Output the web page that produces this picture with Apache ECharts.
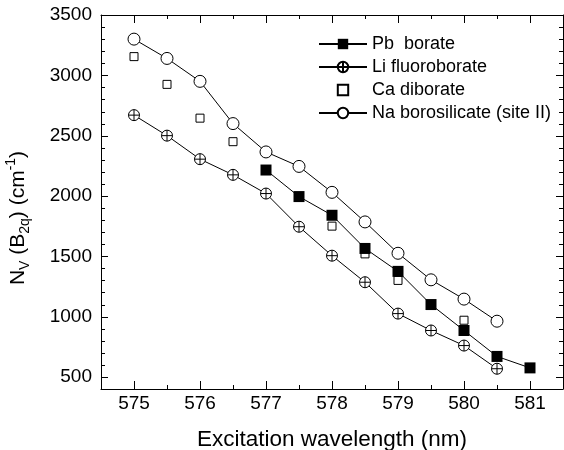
<!doctype html>
<html>
<head>
<meta charset="utf-8">
<title>Nv(B2q) vs excitation wavelength</title>
<style>
    html, body { margin: 0; padding: 0; background: #fff; }
    #main { width: 564px; height: 450px; }
</style>
</head>
<body>
<div id="main"></div>
<script src="https://cdn.jsdelivr.net/npm/echarts@6/dist/echarts.min.js"></script>
<script>
    // values
    var pbWave = [577, 577.5, 578, 578.5, 579, 579.5, 580, 580.5, 581];
    var pbVal = [2215, 1995, 1840, 1565, 1375, 1100, 885, 670, 575];

    var liWave = [575, 575.5, 576, 576.5, 577, 577.5, 578, 578.5, 579, 579.5, 580, 580.5];
    var liVal = [2670, 2500, 2305, 2175, 2020, 1745, 1505, 1285, 1025, 885, 760, 568];

    var caWave = [575, 575.5, 576, 576.5, 578, 578.5, 579, 580];
    var caVal = [3155, 2925, 2645, 2450, 1750, 1520, 1300, 970];

    var naWave = [575, 575.5, 576, 576.5, 577, 577.5, 578, 578.5, 579, 579.5, 580, 580.5];
    var naVal = [3300, 3140, 2950, 2600, 2365, 2245, 2030, 1785, 1525, 1305, 1145, 962];

    // tick values
    var xMajor = [575, 576, 577, 578, 579, 580, 581];
    var xMinor = [575.5, 576.5, 577.5, 578.5, 579.5, 580.5];
    var yMajor = [500, 1000, 1500, 2000, 2500, 3000, 3500];
    var yMinor = [600, 700, 800, 900, 1100, 1200, 1300, 1400, 1600, 1700, 1800, 1900,
        2100, 2200, 2300, 2400, 2600, 2700, 2800, 2900, 3100, 3200, 3300, 3400];

    var xMin = 574.5, xMax = 581.5, yMin = 400, yMax = 3500;

    function pairs(xs, ys) {
        return xs.map(function (x, i) { return [x, ys[i]]; });
    }

    var font = '"Liberation Sans", Arial, sans-serif';
    var black = '#000';
    var plusCircle = 'path://M0,10 A10,10 0 1,1 20,10 A10,10 0 1,1 0,10 Z M10,0 L10,20 M0,10 L20,10';

    function plain(v) { return String(v); }
    function crisp(v) { return Math.round(v) + 0.5; }

    // inward ticks on both opposite frame sides, placed through the axis scales
    function xTicks(len) {
        return function (params, api) {
            var b = api.coord([api.value(0), yMin]);
            var t = api.coord([api.value(0), yMax]);
            var x = crisp(b[0]);
            var st = { stroke: black, lineWidth: 1 };
            return {
                type: 'group',
                children: [
                    { type: 'line', shape: { x1: x, y1: b[1], x2: x, y2: b[1] - len }, style: st },
                    { type: 'line', shape: { x1: x, y1: t[1], x2: x, y2: t[1] + len }, style: st }
                ]
            };
        };
    }

    function yTicks(len) {
        return function (params, api) {
            var l = api.coord([xMin, api.value(1)]);
            var r = api.coord([xMax, api.value(1)]);
            var y = crisp(l[1]);
            var st = { stroke: black, lineWidth: 1 };
            return {
                type: 'group',
                children: [
                    { type: 'line', shape: { x1: l[0], y1: y, x2: l[0] + len, y2: y }, style: st },
                    { type: 'line', shape: { x1: r[0], y1: y, x2: r[0] - len, y2: y }, style: st }
                ]
            };
        };
    }

    function tickSeries(data, render) {
        return {
            type: 'custom',
            silent: true,
            clip: false,
            z: 5,
            data: data,
            renderItem: render
        };
    }

    var chart = echarts.init(document.getElementById('main'));

    chart.setOption({
        animation: false,
        backgroundColor: '#fff',
        grid: { left: 101, right: 1, top: 15, bottom: 61, containLabel: false, outerBoundsMode: 'none' },
        xAxis: [
            {
                type: 'value', min: xMin, max: xMax, position: 'bottom',
                splitLine: { show: false },
                axisLine: { show: true, lineStyle: { color: black, width: 1 } },
                axisTick: { show: false },
                axisLabel: { customValues: xMajor, formatter: plain, fontSize: 19, margin: 5, color: black, fontFamily: font },
                name: 'Excitation wavelength (nm)',
                nameLocation: 'middle',
                nameGap: 39,
                nameTextStyle: { fontSize: 22.5, color: black, fontFamily: font }
            },
            {
                type: 'value', min: xMin, max: xMax, position: 'top',
                splitLine: { show: false },
                axisLine: { show: true, lineStyle: { color: black, width: 1 } },
                axisTick: { show: false },
                axisLabel: { show: false }
            }
        ],
        yAxis: [
            {
                type: 'value', min: yMin, max: yMax, position: 'left',
                splitLine: { show: false },
                axisLine: { show: true, lineStyle: { color: black, width: 1 } },
                axisTick: { show: false },
                axisLabel: { customValues: yMajor, formatter: plain, fontSize: 19, margin: 9, color: black, fontFamily: font },
                name: '{a|N}{s|V}{a| (B}{s|2q}{a|) (cm}{p|-1}{a|)}',
                nameLocation: 'middle',
                nameGap: 69,
                nameTextStyle: {
                    color: black,
                    fontFamily: font,
                    padding: [0, 32, 0, 0],
                    rich: {
                        a: { fontSize: 21, lineHeight: 28, color: black, fontFamily: font },
                        s: { fontSize: 14, lineHeight: 14, verticalAlign: 'bottom', color: black, fontFamily: font },
                        p: { fontSize: 14, lineHeight: 14, verticalAlign: 'top', color: black, fontFamily: font }
                    }
                }
            },
            {
                type: 'value', min: yMin, max: yMax, position: 'right',
                splitLine: { show: false },
                axisLine: { show: true, lineStyle: { color: black, width: 1 } },
                axisTick: { show: false },
                axisLabel: { show: false }
            }
        ],
        legend: {
            orient: 'vertical',
            left: 313,
            top: 30,
            itemWidth: 48,
            itemHeight: 13,
            itemGap: 5,
            textStyle: { fontSize: 18, color: black, fontFamily: font },
            data: ['Pb  borate', 'Li fluoroborate', 'Ca diborate', 'Na borosilicate (site II)']
        },
        series: [
            tickSeries(xMajor.map(function (v) { return [v, yMin]; }), xTicks(8)),
            tickSeries(xMinor.map(function (v) { return [v, yMin]; }), xTicks(4)),
            tickSeries(yMajor.map(function (v) { return [xMin, v]; }), yTicks(7)),
            tickSeries(yMinor.map(function (v) { return [xMin, v]; }), yTicks(4)),
            {
                name: 'Ca diborate',
                type: 'line',
                data: pairs(caWave, caVal),
                symbol: 'rect',
                symbolSize: 8,
                showAllSymbol: true,
                itemStyle: { color: '#fff', borderColor: black, borderWidth: 1 },
                lineStyle: { color: black, width: 0, opacity: 0 }
            },
            {
                name: 'Li fluoroborate',
                type: 'line',
                data: pairs(liWave, liVal),
                symbol: plusCircle,
                symbolSize: 11,
                showAllSymbol: true,
                itemStyle: { color: '#fff', borderColor: black, borderWidth: 1 },
                lineStyle: { color: black, width: 1 }
            },
            {
                name: 'Na borosilicate (site II)',
                type: 'line',
                data: pairs(naWave, naVal),
                symbol: 'circle',
                symbolSize: 12,
                showAllSymbol: true,
                itemStyle: { color: '#fff', borderColor: black, borderWidth: 1 },
                lineStyle: { color: black, width: 1 }
            },
            {
                name: 'Pb  borate',
                type: 'line',
                data: pairs(pbWave, pbVal),
                symbol: 'rect',
                symbolSize: 11,
                showAllSymbol: true,
                itemStyle: { color: black, borderColor: black, borderWidth: 0 },
                lineStyle: { color: black, width: 1 }
            }
        ]
    });

    window.addEventListener('resize', function () {
        chart.resize();
    });
</script>
</body>
</html>
